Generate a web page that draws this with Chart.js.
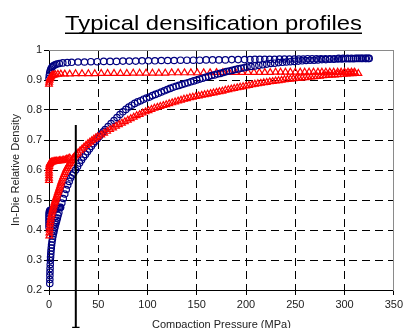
<!DOCTYPE html>
<html><head><meta charset="utf-8">
<script src="https://cdn.jsdelivr.net/npm/chart.js@4/dist/chart.umd.min.js"></script>
<style>html,body{margin:0;padding:0;background:#fff;overflow:hidden}canvas{display:block}</style>
</head><body>
<canvas id="c" width="406" height="328"></canvas>
<script>
// ---- text ----
const TITLE = 'Typical densification profiles';
const X_TITLE = 'Compaction Pressure (MPa)';
const Y_TITLE = 'In-Die Relative Density';

// ---- axis ranges / ticks ----
const xTicks = [0, 50, 100, 150, 200, 250, 300, 350];
const xTickLabels = ['0', '50', '100', '150', '200', '250', '300', '350'];
const yTicks = [0.2, 0.3, 0.4, 0.5, 0.6, 0.7, 0.8, 0.9, 1];
const yTickLabels = ['0.2', '0.3', '0.4', '0.5', '0.6', '0.7', '0.8', '0.9', '1'];

// ---- blue: peak (upper) profile ----
const bluePeakP = [0,0.3,0.7,1.2,1.8,2.6,3.6,4.8,6.2,8,10.5,14,18.5,23,29.5,36,42.5,49,55.5,62,68.5,75,81.5,88,94.5,101,107.5,114,120.5,127,133.5,140,146.5,153,159.5,166,172.5,179,185.5,192,198.5,204,209,214,219,224,229,234,239,244,249,253.5,258,262.5,267,271.5,276,280.5,285,289.5,294,298.5,303,307,311,315,318.5,322,325];
const bluePeakD = [0.905,0.915,0.923,0.93,0.936,0.941,0.945,0.948,0.951,0.953,0.955,0.957,0.958,0.959,0.96,0.96,0.961,0.961,0.962,0.962,0.962,0.963,0.963,0.963,0.964,0.964,0.964,0.965,0.965,0.965,0.966,0.966,0.966,0.966,0.967,0.967,0.967,0.967,0.968,0.968,0.968,0.968,0.969,0.969,0.969,0.969,0.969,0.97,0.97,0.97,0.97,0.97,0.97,0.971,0.971,0.971,0.971,0.971,0.971,0.971,0.972,0.972,0.972,0.972,0.972,0.972,0.972,0.972,0.972];

// ---- blue: in-die compression profile ----
const blueP = [0.8,0.85,0.9,1,1.1,1.25,1.4,1.6,1.8,2,2.3,2.6,3,3.5,4,4.5,5,5.5,6,6.6,7.2,7.8,8.5,9.2,10,11.5,13,14.5,16,17.5,19,20.5,22,23.5,25,27,29,31,33,35,37,39,41,43,45,47,49,51,53,55,57,60,63,66,69,72,75,78,81,84,87,90,93,96,99,102,105,108,111,114,117,120,123,126,129,132,135,138,141,144,147,150,153,156,159,162,165,168,171,174,177,180,183,186,189,192,195,198,201,205,209,213,217,221,225,229,233,237,241,245,249,253,257,261,265,269,273,277,281,285,289,293,297,301,305,309,313,317,321,324];
const blueD = [0.222,0.235,0.248,0.26,0.272,0.285,0.298,0.31,0.32,0.33,0.34,0.35,0.36,0.37,0.38,0.388,0.395,0.403,0.41,0.418,0.425,0.432,0.44,0.449,0.458,0.475,0.49,0.505,0.52,0.535,0.55,0.562,0.574,0.583,0.59,0.60,0.612,0.623,0.633,0.643,0.652,0.661,0.67,0.679,0.688,0.696,0.704,0.712,0.72,0.727,0.735,0.745,0.755,0.765,0.775,0.785,0.794,0.802,0.81,0.816,0.822,0.827,0.831,0.836,0.84,0.843,0.848,0.852,0.856,0.86,0.864,0.868,0.872,0.876,0.879,0.882,0.885,0.888,0.891,0.894,0.897,0.90,0.903,0.906,0.909,0.912,0.915,0.917,0.92,0.922,0.925,0.928,0.93,0.932,0.935,0.937,0.939,0.941,0.943,0.945,0.947,0.949,0.951,0.953,0.955,0.956,0.958,0.959,0.96,0.961,0.962,0.963,0.964,0.965,0.966,0.966,0.967,0.968,0.968,0.969,0.969,0.97,0.97,0.971,0.971,0.971,0.972,0.972,0.972,0.972];
const blueBranchP = [0,0,0,0,0,0.1,0.3,0.6,1,1.6,2.4,3.3,4.3,5.4,6.6,7.9,9.2,10.5,11.8];
const blueBranchD = [0.41,0.419,0.428,0.437,0.446,0.453,0.459,0.463,0.465,0.466,0.467,0.468,0.469,0.47,0.471,0.472,0.473,0.474,0.476];

// ---- red: peak (upper) profile ----
const redPeakP = [0,0.2,0.5,0.9,1.4,2,2.8,3.8,5,6.5,9,12,16,21,27,33.5,40,46.5,53,59.5,66,72.5,79,85.5,92,98.5,105,111.5,118,124.5,131,137.5,144,150.5,157,163.5,170,176.5,183,189.5,196,202,208,213.5,219,224.5,230,235,240,245,250,255,259.5,264,268.5,273,277,281,285,289,293,296.5,300,303.5,307,310];
const redPeakD = [0.886,0.893,0.899,0.904,0.908,0.911,0.914,0.916,0.917,0.918,0.919,0.92,0.92,0.92,0.921,0.921,0.921,0.921,0.922,0.922,0.922,0.922,0.922,0.923,0.923,0.923,0.923,0.923,0.923,0.924,0.924,0.924,0.924,0.924,0.924,0.924,0.925,0.925,0.925,0.925,0.925,0.925,0.925,0.925,0.925,0.925,0.926,0.926,0.926,0.926,0.926,0.926,0.926,0.926,0.926,0.926,0.926,0.926,0.926,0.926,0.926,0.926,0.926,0.926,0.926,0.926];

// ---- red: in-die compression profile ----
const redP = [0.3,0.4,0.55,0.75,1,1.3,1.7,2.2,2.7,3.2,3.7,4.2,4.7,5.2,5.7,6.2,6.7,7.2,7.8,8.4,9,9.6,10.2,10.8,11.4,12,12.7,13.5,14.4,15.3,16.2,17.1,18,19,20,21,22,23,24,25,26.5,28,29.5,31.5,33.5,35.5,37.5,39.5,41.5,43.5,45.5,47.5,49.5,53,56,59,62,65,68,71,74,77,80,83,86,89,92,95,98,101,104,107,110,113,116,119,122,125,128,131,134,137,140,143,146,149,152,155,158,161,164,167,170,173,176,179,182,185,188,191,194,197,200,203,206,209,212,215,218,221,224,227,230,233,236,239,242,245,248,251,254,257,260,263,266,269,272,275,278,281,284,287,290,293,296,299,302,305,308,311,314];
const redD = [0.38,0.39,0.40,0.41,0.42,0.428,0.436,0.444,0.452,0.46,0.467,0.473,0.48,0.486,0.492,0.497,0.502,0.507,0.513,0.519,0.525,0.531,0.537,0.543,0.549,0.556,0.563,0.57,0.578,0.585,0.592,0.599,0.605,0.611,0.617,0.622,0.627,0.632,0.637,0.641,0.647,0.652,0.657,0.664,0.67,0.676,0.682,0.688,0.693,0.698,0.703,0.707,0.711,0.717,0.723,0.729,0.735,0.74,0.746,0.751,0.756,0.761,0.766,0.771,0.776,0.781,0.785,0.79,0.794,0.798,0.802,0.806,0.809,0.812,0.815,0.818,0.821,0.824,0.827,0.83,0.833,0.836,0.838,0.841,0.843,0.845,0.847,0.849,0.851,0.853,0.855,0.857,0.859,0.861,0.863,0.866,0.868,0.87,0.872,0.874,0.876,0.878,0.88,0.882,0.884,0.886,0.888,0.889,0.891,0.892,0.894,0.895,0.897,0.898,0.899,0.901,0.902,0.903,0.904,0.905,0.906,0.907,0.908,0.909,0.91,0.911,0.912,0.913,0.914,0.915,0.916,0.917,0.917,0.918,0.919,0.919,0.92,0.921,0.921,0.922,0.922];
const redBranchP = [0,0,0,0,0,0.1,0.25,0.5,0.9,1.5,2.3,3.2,4.2,5.3,6.5,7.8,9.2,10.6,12,13.5,15,16.5,18,19.5,21];
const redBranchD = [0.565,0.573,0.581,0.589,0.597,0.605,0.612,0.618,0.622,0.624,0.626,0.627,0.628,0.629,0.629,0.63,0.63,0.631,0.631,0.632,0.633,0.634,0.636,0.638,0.64];

// ---- vertical marker line ----
const markerP = [27.2, 27.2];
const markerD = [0.75, 0.073];
const footP = [23.5, 31];
const footD = [0.075, 0.075];

const FONT = '"Liberation Sans", Arial, sans-serif';
const BLUE = '#000080';
const RED = '#ff0000';

const pts = (xs, ys) => xs.map((x, i) => ({x, y: ys[i]}));

function markers(label, xs, ys, color, style, r) {
  return { type: 'scatter', label, data: pts(xs, ys), showLine: false,
    pointStyle: style, pointRadius: r, pointBorderWidth: 1.2,
    borderColor: color, backgroundColor: 'rgba(0,0,0,0)',
    pointBorderColor: color, pointBackgroundColor: 'rgba(0,0,0,0)', clip: false };
}
function segment(label, xs, ys, w) {
  return { type: 'line', label, data: pts(xs, ys), showLine: true, borderColor: '#000',
    borderWidth: w, pointRadius: 0, fill: false, clip: false, tension: 0 };
}

const titlePlugin = {
  id: 'underlinedTitle',
  afterDraw(chart) {
    const ctx = chart.ctx;
    const left = 65, width = 297, base = 29.5;
    ctx.save();
    ctx.font = '21px ' + FONT;
    ctx.fillStyle = '#000';
    ctx.textBaseline = 'alphabetic';
    ctx.textAlign = 'left';
    const w = ctx.measureText(TITLE).width;
    ctx.translate(left, base);
    ctx.scale(width / w, 1);
    ctx.fillText(TITLE, 0, 0);
    ctx.restore();
    ctx.save();
    ctx.fillStyle = '#000';
    ctx.fillRect(left, 32.5, width, 1.5);
    ctx.restore();
  }
};

const edgeX = v => v === xTicks[0] || v === xTicks[xTicks.length - 1];
const edgeY = v => Math.abs(v - yTicks[0]) < 1e-9 || Math.abs(v - yTicks[yTicks.length - 1]) < 1e-9;

new Chart(document.getElementById('c'), {
  type: 'scatter',
  data: { datasets: [
    segment('marker', markerP, markerD, 2),
    segment('foot', footP, footD, 1.5),
    markers('red compression', redP, redD, RED, 'triangle', 3.9),
    markers('blue compression', blueP, blueD, BLUE, 'circle', 3.2),
    markers('red branch', redBranchP, redBranchD, RED, 'triangle', 3.9),
    markers('blue branch', blueBranchP, blueBranchD, BLUE, 'circle', 3.2),
    markers('red peak', redPeakP, redPeakD, RED, 'triangle', 3.9),
    markers('blue peak', bluePeakP, bluePeakD, BLUE, 'circle', 3.2)
  ]},
  options: {
    responsive: false, animation: false, events: [], devicePixelRatio: 1,
    layout: { padding: { top: 50, right: 9, bottom: 0, left: 0 }, autoPadding: false },
    plugins: { legend: { display: false }, tooltip: { enabled: false }, title: { display: false } },
    scales: {
      x: {
        type: 'linear', position: 'bottom', min: xTicks[0], max: xTicks[xTicks.length - 1],
        afterBuildTicks: s => { s.ticks = xTicks.map(v => ({value: v})); },
        afterFit: s => { s.height = 38; },
        ticks: { font: {family: FONT, size: 11}, color: '#222', padding: 3, maxRotation: 0, autoSkip: false,
                 callback: (v, i) => xTickLabels[i] },
        grid: { color: c => (c.tick && edgeX(c.tick.value)) ? 'rgba(0,0,0,0)' : '#000',
                lineWidth: 1, tickColor: '#000', tickLength: 5, tickWidth: 1 },
        border: { display: true, color: '#000', width: 1, dash: [8, 5] },
        title: { display: true, text: X_TITLE, font: {family: FONT, size: 11}, color: '#222', padding: {top: 0, bottom: -3.6} }
      },
      y: {
        type: 'linear', position: 'left', min: yTicks[0], max: yTicks[yTicks.length - 1],
        afterBuildTicks: s => { s.ticks = yTicks.map(v => ({value: v})); },
        afterFit: s => { s.width = 49; },
        ticks: { font: {family: FONT, size: 11}, color: '#222', padding: 2, autoSkip: false,
                 callback: (v, i) => yTickLabels[i] },
        grid: { color: c => (c.tick && edgeY(c.tick.value)) ? 'rgba(0,0,0,0)' : '#000',
                lineWidth: 1, tickColor: '#000', tickLength: 5, tickWidth: 1 },
        border: { display: true, color: '#000', width: 1, dash: [8, 5] },
        title: { display: true, text: Y_TITLE, font: {family: FONT, size: 11}, color: '#222', padding: {top: 9.4, bottom: 0} }
      },
      xTop: {
        type: 'linear', position: 'top', min: xTicks[0], max: xTicks[xTicks.length - 1],
        afterFit: s => { s.height = 0; },
        ticks: { display: false }, grid: { display: false, drawTicks: false },
        border: { display: true, color: '#8a8a8a', width: 1 }
      },
      yRight: {
        type: 'linear', position: 'right', min: yTicks[0], max: yTicks[yTicks.length - 1],
        afterFit: s => { s.width = 0; },
        ticks: { display: false }, grid: { display: false, drawTicks: false },
        border: { display: true, color: '#8a8a8a', width: 1 }
      }
    }
  },
  plugins: [titlePlugin]
});
</script>
</body></html>
